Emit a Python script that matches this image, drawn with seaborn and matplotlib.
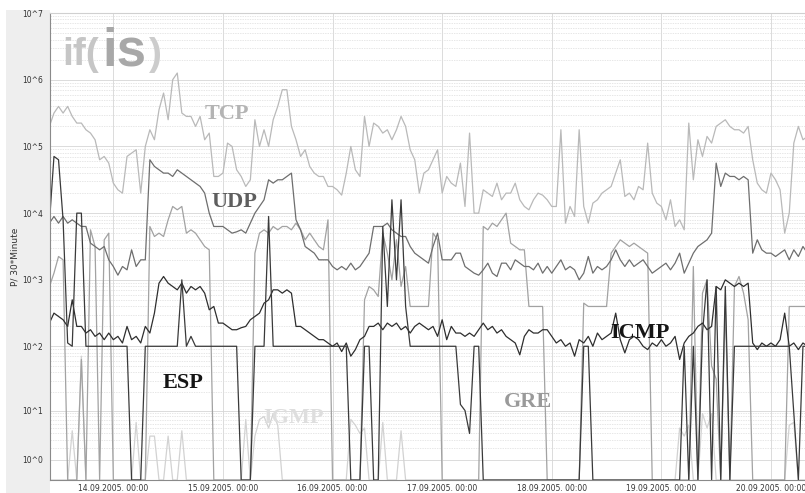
import numpy as np
import pandas as pd
import seaborn as sns
import matplotlib.pyplot as plt
import matplotlib.dates as mdates
from matplotlib.ticker import FixedLocator, FixedFormatter, NullFormatter
from matplotlib.patches import Rectangle

# Z marks an interval with no packets at all.
Z = None

tcp_log = [5.3, 5.5, 5.6, 5.5, 5.6, 5.45, 5.35, 5.35, 5.25, 5.2,
           5.1, 4.8, 4.85, 4.75, 4.45, 4.35, 4.3, 4.85, 4.9, 4.95,
           4.3, 5.0, 5.25, 5.1, 5.55, 5.8, 5.4, 6.0, 6.1, 5.5,
           5.45, 5.45, 5.3, 5.45, 5.1, 5.2, 4.55, 4.55, 4.6, 5.05,
           5.0, 4.65, 4.55, 4.4, 4.5, 5.4, 5.0, 5.25, 5.0, 5.4,
           5.6, 5.85, 5.85, 5.3, 5.1, 4.85, 4.95, 4.7, 4.6, 4.55,
           4.55, 4.4, 4.4, 4.35, 4.27, 4.6, 5.0, 4.65, 4.55, 5.45,
           5.0, 5.35, 5.3, 5.2, 5.25, 5.1, 5.25, 5.45, 5.3, 4.95,
           4.8, 4.3, 4.6, 4.65, 4.8, 4.95, 4.3, 4.55, 4.45, 4.4,
           4.75, 4.1, 5.2, 4.0, 4.0, 4.35, 4.3, 4.25, 4.45, 4.2,
           4.3, 4.3, 4.45, 4.2, 4.1, 4.05, 4.2, 4.3, 4.27, 4.2,
           4.1, 4.1, 5.25, 3.85, 4.1, 3.95, 5.25, 4.1, 3.85, 4.15,
           4.2, 4.3, 4.35, 4.4, 4.6, 4.8, 4.25, 4.3, 4.2, 4.4,
           4.35, 5.05, 4.3, 4.15, 4.1, 3.9, 4.2, 3.8, 3.9, 3.75,
           5.35, 4.5, 5.1, 4.85, 5.15, 5.05, 5.3, 5.35, 5.4, 5.3,
           5.25, 5.25, 5.2, 5.3, 4.8, 4.45, 4.35, 4.3, 4.6, 4.5,
           4.35, 3.7, 4.0, 5.05, 5.3, 5.1, 5.15]

udp_log = [3.85, 3.95, 3.85, 3.95, 3.85, 3.9, 3.85, 3.8, 3.8, 3.55,
           3.5, 3.45, 3.5, 3.3, 3.2, 3.07, 3.2, 3.15, 3.45, 3.2,
           3.3, 3.3, 4.8, 4.7, 4.65, 4.6, 4.6, 4.55, 4.65, 4.6,
           4.55, 4.5, 4.45, 4.4, 4.3, 4.0, 3.8, 3.8, 3.8, 3.75,
           3.7, 3.72, 3.75, 3.7, 3.85, 4.0, 4.1, 4.2, 4.5, 4.45,
           4.5, 4.5, 4.55, 4.6, 3.9, 3.75, 3.5, 3.45, 3.4, 3.3,
           3.3, 3.3, 3.2, 3.15, 3.2, 3.15, 3.25, 3.15, 3.2, 3.3,
           3.4, 3.8, 3.8, 3.8, 3.85, 3.75, 3.7, 3.65, 3.65, 3.5,
           3.4, 3.35, 3.3, 3.25, 3.5, 3.7, 3.3, 3.3, 3.3, 3.4,
           3.4, 3.2, 3.15, 3.1, 3.07, 3.15, 3.25, 3.1, 3.05, 3.25,
           3.25, 3.15, 3.3, 3.25, 3.2, 3.2, 3.15, 3.25, 3.1, 3.2,
           3.1, 3.2, 3.3, 3.15, 3.2, 3.15, 3.0, 3.1, 3.35, 3.1,
           3.2, 3.15, 3.2, 3.3, 3.45, 3.3, 3.2, 3.3, 3.2, 3.25,
           3.3, 3.2, 3.1, 3.15, 3.2, 3.25, 3.15, 3.25, 3.4, 3.1,
           3.25, 3.4, 3.5, 3.55, 3.6, 3.7, 4.75, 4.4, 4.6, 4.55,
           4.55, 4.5, 4.55, 4.5, 3.4, 3.6, 3.45, 3.4, 3.4, 3.35,
           3.4, 3.45, 3.3, 3.45, 3.35, 3.5, 3.4]

icmp_log = [2.35, 2.5, 2.45, 2.4, 2.3, 2.7, 2.3, 2.3, 2.2, 2.25,
            2.15, 2.2, 2.1, 2.2, 2.1, 2.15, 2.05, 2.3, 2.1, 2.15,
            2.05, 2.3, 2.2, 2.5, 2.95, 3.05, 2.95, 2.9, 2.85, 2.95,
            2.8, 2.9, 2.85, 2.9, 2.8, 2.55, 2.6, 2.35, 2.35, 2.3,
            2.25, 2.25, 2.28, 2.3, 2.4, 2.45, 2.5, 2.65, 2.7, 2.85,
            2.85, 2.8, 2.85, 2.8, 2.3, 2.3, 2.25, 2.2, 2.15, 2.1,
            2.1, 2.05, 2.0, 2.05, 1.92, 2.05, 1.85, 1.95, 2.1, 2.15,
            2.3, 2.3, 2.35, 2.25, 2.35, 2.3, 2.35, 2.25, 2.3, 2.2,
            2.3, 2.35, 2.3, 2.25, 2.3, 2.15, 2.4, 2.1, 2.3, 2.2,
            2.2, 2.15, 2.2, 2.15, 2.25, 2.35, 2.25, 2.3, 2.2, 2.25,
            2.15, 2.1, 2.05, 1.87, 2.15, 2.25, 2.2, 2.2, 2.25, 2.25,
            2.15, 2.05, 2.1, 2.0, 2.05, 1.85, 2.1, 2.05, 2.15, 2.0,
            2.2, 2.1, 2.15, 2.2, 2.5, 2.1, 1.9, 2.1, 2.15, 2.1,
            2.0, 1.95, 2.05, 2.0, 2.1, 2.0, 2.05, 2.15, 1.8, 2.05,
            2.15, 2.2, 2.3, 2.35, 2.25, 2.3, 2.9, 2.85, 3.0, 2.95,
            2.9, 2.95, 2.9, 2.95, 2.05, 1.95, 2.05, 2.0, 2.05, 2.0,
            2.1, 2.5, 2.0, 2.05, 1.95, 2.05, 2.0]

esp_log = ([3.85, 4.85, 4.8, 3.9, 2.05, 2.0, 4.0, 4.0, 2.0, 2.0,
            2.0, 2.0, 2.0, 2.0, 2.0, 2.0, 2.0, 2.0, Z, Z,
            Z, 2.0, 2.0, 2.0, 2.0, 2.0, 2.0, 2.0, 2.0, 3.0,
            2.0, 2.15, 2.0, 2.0, 2.0, 2.0, 2.0, 2.0, 2.0, 2.0,
            2.0, 2.0, Z, Z, Z, 2.0, 2.0, 2.0, 3.95, 2.0]
           + [2.0] * 10
           + [2.0, 2.0, 2.0, 2.0, 2.0, 2.0, Z, Z, Z, 2.0,
              2.0, Z, Z, 3.8, 2.6, 4.2, 3.0, 4.2, 2.6, 2.0]
           + [2.0] * 10
           + [1.1, 1.0, 0.6, 2.0, 2.0, Z, Z, Z, Z, Z]
           + [Z] * 10
           + [Z, Z, Z, Z, Z, Z, Z, 2.0, 2.0, Z]
           + [Z] * 10
           + [Z, Z, Z, Z, Z, Z, Z, Z, Z, 2.0,
              Z, 2.0, Z, 2.2, 3.0, Z, 2.9, Z, 2.9, Z]
           + [2.0] * 10
           + [2.0, 2.0, 2.0, 0.95, Z, 2.0, 2.0])

gre_log = [2.9, 3.1, 3.35, 3.3, Z, Z, Z, 1.8, Z, 3.75,
           3.5, Z, 3.6, 3.7, Z, Z, Z, Z, Z, Z,
           Z, Z, 3.8, 3.65, 3.7, 3.65, 3.9, 4.1, 4.05, 4.1,
           3.7, 3.75, 3.7, 3.6, 3.5, 3.45, Z, Z, Z, Z,
           Z, Z, Z, Z, Z, 3.4, 3.7, 3.75, 3.7, 3.8,
           3.75, 3.8, 3.8, 3.75, 3.85, 3.75, 3.6, 3.7, 3.6, 3.5,
           3.45, 3.9, Z, Z, Z, Z, Z, Z, Z, 2.7,
           2.9, 2.85, 2.75, 3.7, 3.4, 3.0, 3.6, 2.9, 3.2, 2.6,
           2.6, 2.6, 2.6, 2.6, 3.7, 3.6, Z, Z, Z, Z,
           Z, Z, Z, Z, Z, 3.8, 3.75, 3.85, 3.8, 3.9,
           4.0, 3.55, 3.5, 3.45, 3.45, 2.6, 2.6, 2.6, 2.6, Z,
           Z, Z, Z, Z, Z, Z, Z, 2.65, 2.6, 2.6,
           2.6, 2.6, 2.6, 3.4, 3.5, 3.6, 3.55, 3.5, 3.55, 3.5,
           3.45, 3.4, Z, Z, Z, Z, Z, Z, Z, Z,
           Z, 3.2, Z, 2.8, 3.0, 1.7, 1.5, Z, 2.6, Z,
           2.9, 3.05, 2.8, 2.4, Z, Z, Z, Z, Z, Z,
           Z, Z, 2.6, 2.6, 2.6, 2.6, 2.6]

igmp_log = ([Z, Z, Z, Z, Z, 0.65, Z, 1.85, Z, Z,
             Z, Z, Z, Z, Z, Z, Z, Z, Z, 0.8,
             Z, Z, 0.55, 0.55, Z, Z, 0.55, Z, Z, 0.65]
            + [Z] * 10
            + [Z, Z, Z, 0.85, Z, 0.55, 0.85, 0.9, 0.7, 0.95,
               0.75, Z, Z, Z, Z, Z, Z, Z, Z, Z,
               Z, Z, Z, Z, Z, Z, 0.85, 0.75, 0.6, 0.7,
               Z, Z, Z, 0.8, Z, Z, Z, 0.65, Z, Z]
            + [Z] * 50
            + [Z, Z, Z, Z, Z, Z, Z, Z, 0.7, 0.55,
               0.75, Z, Z, 0.95, 0.7, 0.95, Z, Z, Z, Z]
            + [Z] * 10
            + [Z, Z, 0.75, 0.8, Z, Z, Z])

protocols = ['TCP', 'UDP', 'ICMP', 'ESP', 'GRE', 'IGMP']
series_logs = [tcp_log, udp_log, icmp_log, esp_log, gre_log, igmp_log]

line_colors = {'TCP': '#b9b9b9', 'UDP': '#6e6e6e', 'ICMP': '#2e2e2e',
               'ESP': '#3a3a3a', 'GRE': '#a2a2a2', 'IGMP': '#d2d2d2'}
label_colors = {'TCP': '#b4b4b4', 'UDP': '#5e5e5e', 'ICMP': '#151515',
                'ESP': '#151515', 'GRE': '#9a9a9a', 'IGMP': '#dedede'}
# label anchor (pixel x, baseline pixel y) in the 805x493 picture
label_pos = {'TCP': (227, 119), 'UDP': (234, 207), 'ESP': (183, 388),
             'IGMP': (293, 423), 'GRE': (528, 407), 'ICMP': (640, 338)}

times = pd.date_range('2005-09-13 10:00', periods=len(tcp_log), freq='h')

frames = []
for name, logs in zip(protocols, series_logs):
    packets = [0.0 if v is None else 10 ** v for v in logs]
    frames.append(pd.DataFrame({'time': times, 'packets': packets, 'protocol': name}))
df = pd.concat(frames, ignore_index=True)

sns.set_style('white')
W, H = 805, 493
fig = plt.figure(figsize=(W / 100, H / 100), dpi=100)
panel = Rectangle((6 / W, 0), 44 / W, (H - 10) / H, transform=fig.transFigure,
                  facecolor='#eeeeee', edgecolor='none', zorder=-5)
fig.patches.append(panel)
ax = fig.add_axes([50 / W, 13 / H, 755 / W, 467 / H])
ax.set_zorder(1)

sns.lineplot(data=df, x='time', y='packets', hue='protocol',
             hue_order=['IGMP', 'GRE', 'TCP', 'UDP', 'ICMP', 'ESP'],
             palette=line_colors, estimator=None, linewidth=0.9,
             legend=False, ax=ax)

# axis looks like log10(packets + 1), so zero sits on the floor
ax.set_yscale('function', functions=(lambda v: np.log10(np.clip(v, 0, None) + 1),
                                     lambda v: 10 ** v - 1))
ax.set_ylim(0, 1e7)
ax.set_xlim(pd.Timestamp('2005-09-13 10:08'), pd.Timestamp('2005-09-20 07:27'))

ax.yaxis.set_major_locator(FixedLocator([10 ** k for k in range(8)]))
ax.yaxis.set_major_formatter(FixedFormatter(['10^%d' % k for k in range(8)]))
ax.yaxis.set_minor_locator(FixedLocator([m * 10 ** k for k in range(7) for m in range(2, 10)]))
ax.yaxis.set_minor_formatter(NullFormatter())

ax.xaxis.set_major_locator(mdates.DayLocator())
ax.xaxis.set_major_formatter(mdates.DateFormatter('%d.%m.%Y. %H:%M'))

ax.set_axisbelow(True)
ax.grid(True, which='major', axis='both', color='#d6d6d6', linewidth=0.6)
ax.grid(True, which='minor', axis='y', color='#dddddd', linewidth=0.5, linestyle=(0, (2, 1.5)))

ax.set_xlabel('')
ax.set_ylabel('')
ax.tick_params(axis='y', which='major', labelsize=5.5, labelcolor='#333333',
               color='#999999', length=3, width=0.6, pad=2)
ax.tick_params(axis='x', which='major', labelsize=5.5, labelcolor='#333333',
               color='#999999', length=2, width=0.6, pad=1)
ax.tick_params(axis='y', which='minor', length=1.5, width=0.5, color='#aaaaaa')
for side in ['left', 'bottom']:
    ax.spines[side].set_color('#8a8a8a')
    ax.spines[side].set_linewidth(0.8)
ax.spines['top'].set_color('#d0d0d0')
ax.spines['right'].set_visible(False)

fig.text(15 / W, 1 - 257 / H, 'P/ 30*Minute', rotation=90, ha='center', va='center',
         fontsize=6.5, color='#333333')

for name, (px, py) in label_pos.items():
    fig.text(px / W, 1 - py / H, name, ha='center', va='baseline',
             fontsize=16, fontweight='bold', family='Liberation Serif',
             color=label_colors[name])

# if(is) logo in the top left corner
fig.text(62 / W, 1 - 65 / H, 'if(', fontsize=28, fontweight='bold',
         family='Liberation Sans', color='#c6c6c6', va='baseline')
fig.text(102 / W, 1 - 65 / H, 'is', fontsize=38, fontweight='bold',
         family='Liberation Sans', color='#a8a8a8', va='baseline')
fig.text(149 / W, 1 - 65 / H, ')', fontsize=28, fontweight='bold',
         family='Liberation Sans', color='#cccccc', va='baseline')

fig.savefig('out.png', dpi=100)
